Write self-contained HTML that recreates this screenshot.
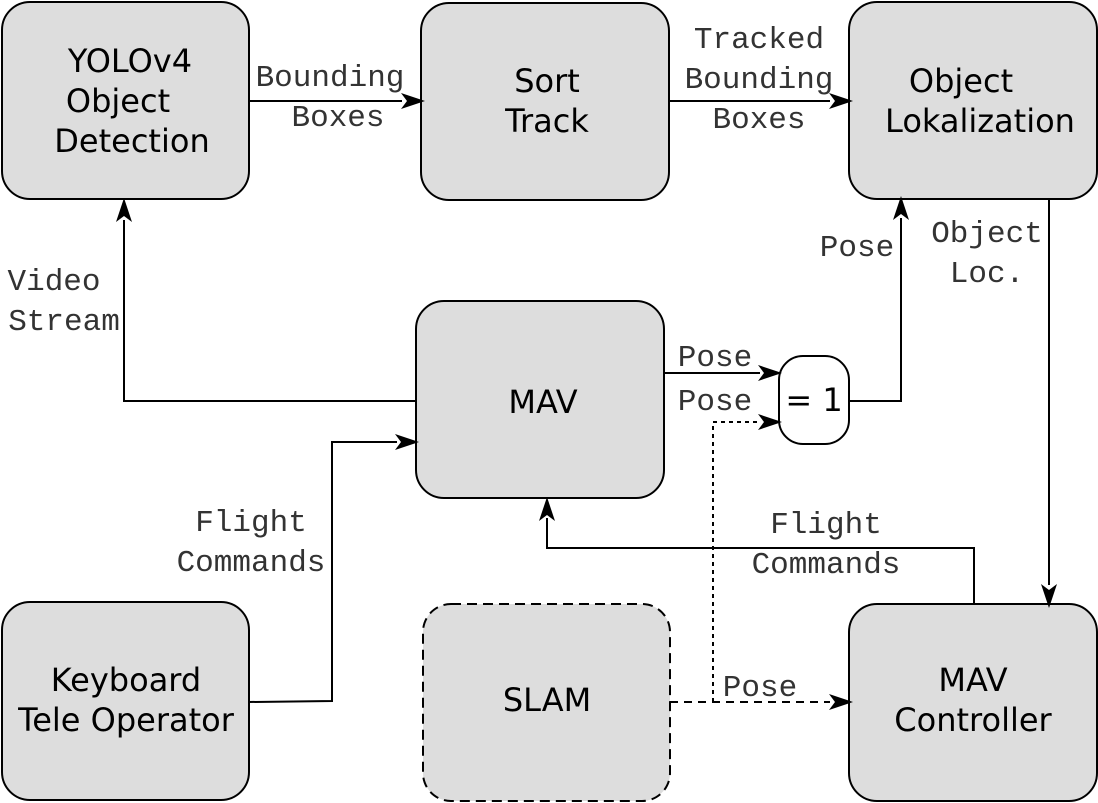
<!DOCTYPE html>
<html><head><style>
html,body{margin:0;padding:0;background:#fff;}
svg{display:block;}
</style></head><body>
<svg width="1098" height="803" viewBox="0 0 1098 803" xmlns="http://www.w3.org/2000/svg">
<g fill="#dddddd" stroke="#000" stroke-width="2">
<rect x="2" y="2" width="247" height="197" rx="28"/>
<rect x="421" y="3" width="248" height="197" rx="28"/>
<rect x="849" y="2" width="248" height="197" rx="28"/>
<rect x="416" y="301" width="248" height="197" rx="28"/>
<rect x="2" y="602" width="247" height="198" rx="28"/>
<rect x="423" y="604" width="247" height="197" rx="28" stroke-dasharray="10,6"/>
<rect x="849" y="604" width="248" height="197" rx="28"/>
<rect x="779" y="356" width="70" height="88" rx="24" fill="#fff"/>
</g>
<g fill="none" stroke="#000" stroke-width="2">
<path d="M249,101 H402"/>
<path d="M669,101 H830"/>
<path d="M416,401 H124 V220"/>
<path d="M664,373 H760"/>
<path d="M849,401 H901 V218"/>
<path d="M1049,199 V585"/>
<path d="M249,702 L332,701 V442 H397"/>
<path d="M974,604 V548 H547 V518"/>
<path d="M670,702 H830" stroke-dasharray="8,6"/>
<path d="M713,702 V422 H760" stroke-dasharray="4,4"/>
</g>
<g fill="#000" stroke="none">
<path d="M425,101 L401,93 L407,101 L401,109 Z"/>
<path d="M853,101 L829,93 L835,101 L829,109 Z"/>
<path d="M124,198 L116,222 L124,216 L132,222 Z"/>
<path d="M782,373 L758,365 L764,373 L758,381 Z"/>
<path d="M782,422 L758,414 L764,422 L758,430 Z"/>
<path d="M901,196 L893,220 L901,214 L909,220 Z"/>
<path d="M1049,608 L1041,584 L1049,590 L1057,584 Z"/>
<path d="M419,442 L395,434 L401,442 L395,450 Z"/>
<path d="M547,497 L539,521 L547,515 L555,521 Z"/>
<path d="M853,702 L829,694 L835,702 L829,710 Z"/>
</g>
<g font-family="'DejaVu Sans', 'Liberation Sans', sans-serif" font-size="32" fill="#000" text-anchor="middle">
<text x="130" y="72">YOLOv4</text>
<text x="118" y="112">Object</text>
<text x="132" y="152">Detection</text>
<text x="547" y="92">Sort</text>
<text x="547" y="132">Track</text>
<text x="961" y="92">Object</text>
<text x="980" y="132">Lokalization</text>
<text x="543" y="413">MAV</text>
<text x="814" y="411">= 1</text>
<text x="126" y="691">Keyboard</text>
<text x="126" y="731">Tele Operator</text>
<text x="547" y="711">SLAM</text>
<text x="973" y="691">MAV</text>
<text x="973" y="731">Controller</text>
</g>
<g font-family="'Liberation Mono', 'Courier New', monospace" font-size="31" font-weight="300" fill="#333" text-anchor="middle">
<text x="330" y="86">Bounding</text>
<text x="338" y="126">Boxes</text>
<text x="759" y="48">Tracked</text>
<text x="759" y="88">Bounding</text>
<text x="759" y="128">Boxes</text>
<text x="857" y="256">Pose</text>
<text x="987" y="242">Object</text>
<text x="987" y="282">Loc.</text>
<text x="54" y="290">Video</text>
<text x="64" y="330">Stream</text>
<text x="715" y="366">Pose</text>
<text x="715" y="410">Pose</text>
<text x="251" y="531">Flight</text>
<text x="251" y="571">Commands</text>
<text x="826" y="533">Flight</text>
<text x="826" y="573">Commands</text>
<text x="760" y="696">Pose</text>
</g>
</svg>
</body></html>
